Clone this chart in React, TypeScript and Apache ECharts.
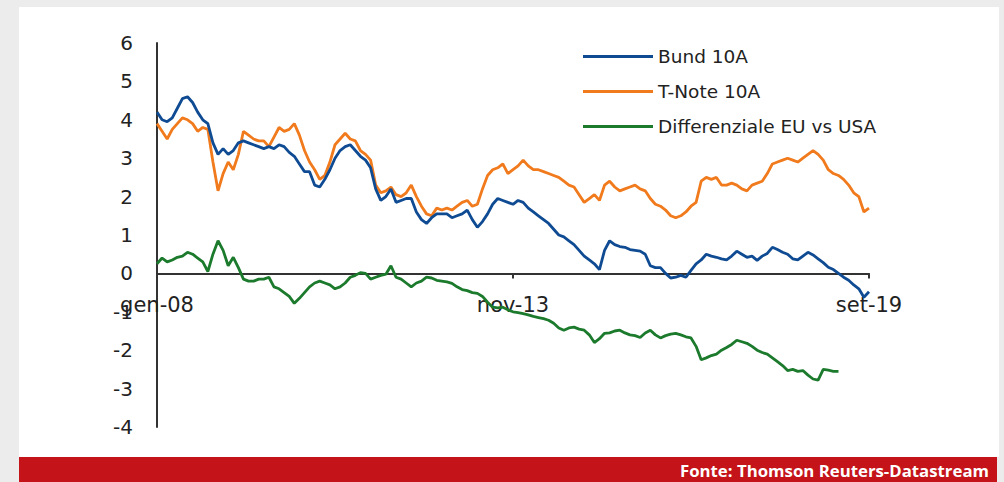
import React, { useEffect, useRef } from "react";
import * as echarts from "echarts";

const monthNames = ["gen", "feb", "mar", "apr", "mag", "giu", "lug", "ago", "set", "ott", "nov", "dic"];
const startYear = 2008;
const monthCount = 141; // gen-08 .. set-19

const bund: number[] = [
  4.2, 4.0, 3.95, 4.05, 4.3, 4.55, 4.6, 4.45, 4.2, 4.0, 3.9, 3.4,
  3.1, 3.25, 3.1, 3.2, 3.4, 3.45, 3.4, 3.35, 3.3, 3.25, 3.3, 3.25,
  3.35, 3.3, 3.15, 3.05, 2.85, 2.65, 2.65, 2.3, 2.25, 2.45, 2.7, 3.0,
  3.2, 3.3, 3.35, 3.2, 3.05, 2.95, 2.75, 2.2, 1.9, 2.0, 2.2, 1.85,
  1.9, 1.95, 1.95, 1.6, 1.4, 1.3, 1.45, 1.55, 1.55, 1.55, 1.45, 1.5,
  1.55, 1.65, 1.4, 1.2, 1.35, 1.55, 1.8, 1.95, 1.9, 1.85, 1.8, 1.9,
  1.85, 1.7, 1.6, 1.5, 1.4, 1.3, 1.15, 1.0, 0.95, 0.85, 0.75, 0.6,
  0.45, 0.35, 0.25, 0.1, 0.6, 0.85, 0.75, 0.7, 0.68, 0.62, 0.6, 0.58,
  0.5, 0.2, 0.15, 0.15, 0.0, -0.12, -0.1, -0.05, -0.1, 0.08, 0.25, 0.35,
  0.5, 0.45, 0.42, 0.38, 0.35, 0.45, 0.58, 0.5, 0.42, 0.45, 0.34, 0.45,
  0.52, 0.68, 0.62, 0.55, 0.5, 0.38, 0.35, 0.45, 0.55, 0.48, 0.38, 0.28,
  0.16, 0.1, 0.0, -0.1, -0.18, -0.3, -0.4, -0.62, -0.48,
];

const tnote: number[] = [
  3.9, 3.7, 3.5, 3.75, 3.9, 4.05, 4.0, 3.9, 3.7, 3.8, 3.75, 2.9,
  2.15, 2.6, 2.9, 2.7, 3.1, 3.7, 3.6, 3.5, 3.45, 3.45, 3.3, 3.55,
  3.8, 3.7, 3.75, 3.9, 3.6, 3.2, 2.9, 2.7, 2.45, 2.55, 2.9, 3.35,
  3.5, 3.65, 3.5, 3.45, 3.2, 3.1, 2.95, 2.3, 2.1, 2.15, 2.25, 2.05,
  2.0, 2.1, 2.3, 2.0, 1.75, 1.55, 1.5, 1.7, 1.65, 1.7, 1.65, 1.75,
  1.85, 1.9, 1.75, 1.8, 2.2, 2.55, 2.7, 2.75, 2.85, 2.6, 2.7, 2.8,
  2.95, 2.8, 2.7, 2.7, 2.65, 2.6, 2.55, 2.5, 2.4, 2.3, 2.25, 2.05,
  1.85, 1.95, 2.05, 1.9, 2.3, 2.4, 2.25, 2.15, 2.2, 2.25, 2.3, 2.2,
  2.15, 1.95, 1.8, 1.75, 1.65, 1.5, 1.45, 1.5, 1.6, 1.75, 1.85, 2.4,
  2.5, 2.45, 2.5, 2.3, 2.3, 2.35, 2.3, 2.2, 2.15, 2.3, 2.35, 2.4,
  2.6, 2.85, 2.9, 2.95, 3.0, 2.95, 2.9, 3.0, 3.1, 3.2, 3.1, 2.95,
  2.7, 2.6, 2.55, 2.45, 2.3, 2.1, 2.0, 1.6, 1.7,
];

const spread: (number | null)[] = [
  0.25, 0.4, 0.3, 0.35, 0.42, 0.45, 0.55, 0.5, 0.4, 0.3, 0.05, 0.5,
  0.85, 0.6, 0.2, 0.42, 0.15, -0.15, -0.2, -0.2, -0.15, -0.15, -0.1, -0.35,
  -0.4, -0.5, -0.6, -0.78, -0.65, -0.5, -0.35, -0.25, -0.2, -0.25, -0.3, -0.4,
  -0.35, -0.25, -0.1, -0.05, 0.02, 0.0, -0.15, -0.1, -0.05, -0.02, 0.2, -0.1,
  -0.15, -0.25, -0.35, -0.25, -0.2, -0.1, -0.12, -0.18, -0.2, -0.22, -0.26, -0.35,
  -0.42, -0.45, -0.5, -0.52, -0.6, -0.75, -0.88, -0.9, -0.88, -0.95, -1.0, -1.02,
  -1.05, -1.08, -1.12, -1.15, -1.18, -1.22, -1.3, -1.42, -1.48, -1.42, -1.4, -1.45,
  -1.48, -1.6, -1.8, -1.7, -1.56, -1.55, -1.5, -1.48, -1.55, -1.6, -1.62, -1.67,
  -1.55, -1.48, -1.6, -1.68, -1.62, -1.58, -1.56, -1.6, -1.65, -1.68, -1.9, -2.25,
  -2.2, -2.14, -2.1, -2.0, -1.93, -1.85, -1.74, -1.78, -1.82, -1.9, -2.0, -2.06,
  -2.1, -2.2, -2.3, -2.4, -2.53, -2.5, -2.55, -2.53, -2.65, -2.75, -2.78, -2.5,
  -2.52, -2.55, -2.55, null, null, null, null, null, null,
];

const seriesNames = ["Bund 10A", "T-Note 10A", "Differenziale EU vs USA"];
const seriesColors = ["#0f4b93", "#f07a1c", "#1b7a2c"];
const yMin = -4;
const yMax = 6;
const labelEvery = 70;
const sourceText = "Fonte: Thomson Reuters-Datastream";

const categories: string[] = [];
for (let i = 0; i < monthCount; i++) {
  const y = (startYear + Math.floor(i / 12)) % 100;
  categories.push(monthNames[i % 12] + "-" + String(y).padStart(2, "0"));
}

export default function App() {
  const ref = useRef<HTMLDivElement>(null);
  useEffect(() => {
    document.body.style.margin = "0";
    const chart = echarts.init(ref.current!, undefined, { renderer: "svg" });
    const font = "DejaVu Sans";
    const showIdx = (i: number) => i % labelEvery === 0;
    chart.setOption({
      animation: false,
      backgroundColor: "#ececec",
      textStyle: { fontFamily: font },
      grid: { left: 157, right: 135, top: 43, height: 384 },
      legend: {
        orient: "vertical",
        left: 578,
        top: 42,
        icon: "rect",
        itemWidth: 70,
        itemHeight: 3,
        itemGap: 16,
        data: seriesNames,
        textStyle: { fontFamily: font, fontSize: 18.5, color: "#222" },
      },
      xAxis: {
        type: "category",
        data: categories,
        boundaryGap: false,
        axisLine: { onZero: true, lineStyle: { color: "#333", width: 2 } },
        axisTick: { show: true, interval: showIdx, length: 5, lineStyle: { color: "#333", width: 2 } },
        axisLabel: { interval: showIdx, margin: -133, fontSize: 21, color: "#222", fontFamily: font },
        splitLine: { show: false },
      },
      yAxis: {
        type: "value",
        min: yMin,
        max: yMax,
        interval: 1,
        axisLine: { show: true, lineStyle: { color: "#333", width: 2 } },
        axisTick: { show: false },
        axisLabel: { margin: 24, fontSize: 20, color: "#222", fontFamily: font },
        splitLine: { show: false },
      },
      series: [bund, tnote, spread].map((d, i) => ({
        name: seriesNames[i],
        type: "line",
        data: d,
        showSymbol: false,
        symbol: "none",
        color: seriesColors[i],
        lineStyle: { width: 2.8, color: seriesColors[i] },
        z: 3 + (2 - i),
      })),
      graphic: {
        elements: [
          { type: "rect", z: -10, shape: { x: 19, y: 7, width: 980, height: 450 }, style: { fill: "#ffffff" } },
          { type: "rect", z: -9, shape: { x: 19, y: 457, width: 978, height: 25 }, style: { fill: "#c41319" } },
          {
            type: "text",
            z: 10,
            x: 989,
            y: 470,
            style: {
              text: sourceText,
              align: "right",
              verticalAlign: "middle",
              fill: "#ffffff",
              fontFamily: "Open Sans",
              fontWeight: "bold",
              fontSize: 16.8,
            },
          },
        ],
      },
    });
    return () => chart.dispose();
  }, []);
  return <div ref={ref} style={{ position: "fixed", left: 0, top: 0, width: 1004, height: 482 }} />;
}
